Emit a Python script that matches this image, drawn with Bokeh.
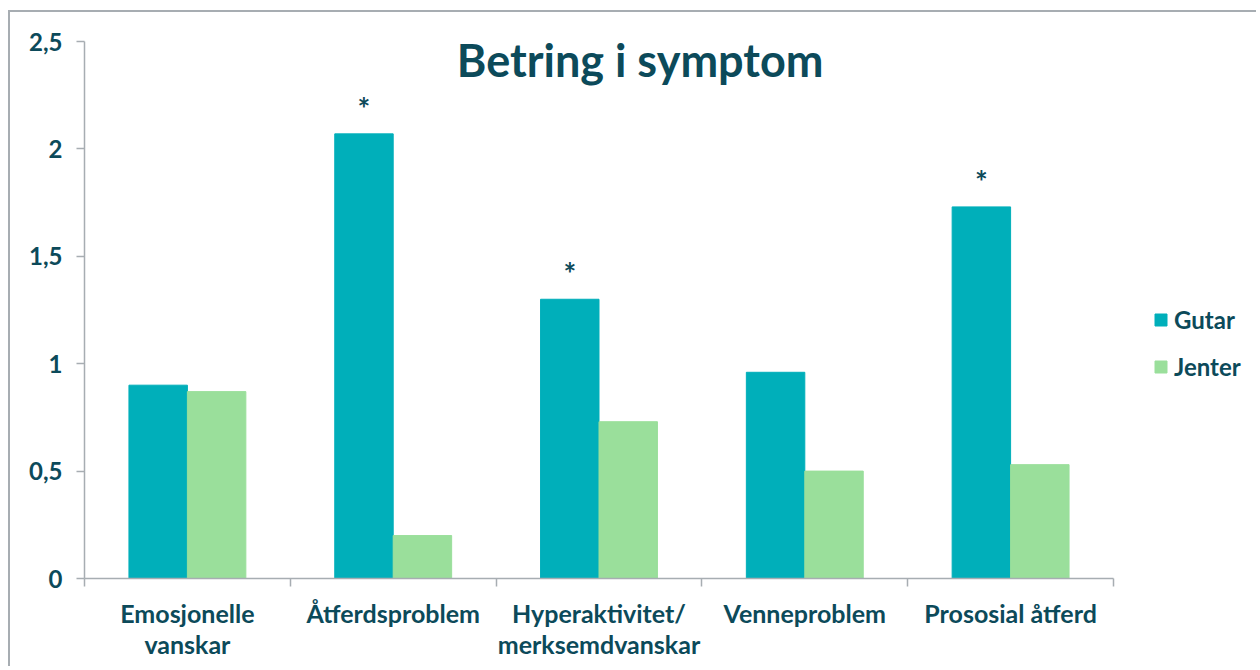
from bokeh.plotting import figure
from bokeh.models import Range1d, FixedTicker, LinearAxis, Legend, LegendItem, Label, ColumnDataSource
from bokeh.transform import dodge
from bokeh.core.properties import value
from bokeh.embed import file_html
from bokeh.resources import INLINE

# ---- data ----
categories = ["Emosjonelle\nvanskar", "Åtferdsproblem", "Hyperaktivitet/\nmerksemdvanskar",
              "Venneproblem", "Prososial åtferd"]
gutar = [0.90, 2.07, 1.30, 0.96, 1.73]
jenter = [0.87, 0.20, 0.73, 0.50, 0.53]
significant = [False, True, True, False, True]
series_names = ["Gutar", "Jenter"]
y_ticks = [0, 0.5, 1, 1.5, 2, 2.5]
y_tick_labels = ["0", "0,5", "1", "1,5", "2", "2,5"]
title_text = "Betring i symptom"

# ---- styles ----
FONT = "Lato"
TXT = "#0C4A5A"
AX = "#A7ADB2"
C_G = "#00AFBA"
C_J = "#9ADF9B"
BW = 0.284

W, H = 1248, 656
ML, MR, MT, MB = 74, 8, 29, 90
AXIS_PX = 1029  # pixel length of the category axis

n = len(categories)
frame_w = W - ML - MR
x_end = n * frame_w / AXIS_PX

xs = [i + 0.5 for i in range(n)]
src = ColumnDataSource(dict(x=xs, gutar=gutar, jenter=jenter))
sig_x = [x for x, s in zip(xs, significant) if s]
sig_y = [g for g, s in zip(gutar, significant) if s]
sig_src = ColumnDataSource(dict(x=sig_x, y=sig_y, t=["*"] * len(sig_x)))

p = figure(width=W, height=H, x_range=Range1d(0, x_end), y_range=Range1d(0, 2.5),
           output_backend="svg", toolbar_location=None,
           min_border_left=ML, min_border_right=MR, min_border_top=MT, min_border_bottom=MB)
p.styles = {"border-left": f"2px solid {AX}", "border-top": f"2px solid {AX}",
            "margin-top": "10px", "margin-left": "8px"}
p.outline_line_color = None
p.grid.visible = False

rg = p.vbar(x=dodge("x", -BW / 2, range=p.x_range), top="gutar", width=BW, source=src,
            fill_color=C_G, line_color=C_G)
rj = p.vbar(x=dodge("x", BW / 2, range=p.x_range), top="jenter", width=BW, source=src,
            fill_color=C_J, line_color=C_J)

p.text(x=dodge("x", -BW / 2, range=p.x_range), y="y", text="t", source=sig_src,
       text_font=value(FONT), text_font_style="bold", text_font_size="30px",
       text_color=TXT, text_align="center", text_baseline="middle", y_offset=-26)

# y axis
ya = p.yaxis[0]
ya.ticker = FixedTicker(ticks=y_ticks)
ya.major_label_overrides = {t: l for t, l in zip(y_ticks, y_tick_labels)}
ya.major_label_text_font = FONT
ya.major_label_text_font_style = "bold"
ya.major_label_text_font_size = "24px"
ya.major_label_text_color = TXT
ya.major_label_standoff = 14
ya.axis_line_color = AX
ya.axis_line_width = 1.5
ya.major_tick_line_color = AX
ya.major_tick_line_width = 1.5
ya.major_tick_in = 0
ya.major_tick_out = 8
ya.minor_tick_line_color = None

# x axis: boundary ticks
xa = p.xaxis[0]
bounds = list(range(n + 1))
xa.bounds = (0, n)
xa.ticker = FixedTicker(ticks=bounds)
xa.major_label_overrides = {b: "" for b in bounds}
xa.major_label_text_font_size = "1px"
xa.major_label_standoff = 0
xa.axis_line_color = AX
xa.axis_line_width = 1.5
xa.major_tick_line_color = AX
xa.major_tick_line_width = 1.5
xa.major_tick_in = 0
xa.major_tick_out = 8
xa.minor_tick_line_color = None

# x axis: category labels
xl = LinearAxis(ticker=FixedTicker(ticks=xs), bounds=(0, n),
                major_label_overrides={x: c for x, c in zip(xs, categories)})
xl.axis_line_color = None
xl.major_tick_line_color = None
xl.minor_tick_line_color = None
xl.major_label_text_font = FONT
xl.major_label_text_font_style = "bold"
xl.major_label_text_font_size = "25px"
xl.major_label_text_color = TXT
xl.major_label_text_line_height = 1.05
xl.major_label_standoff = 5
p.add_layout(xl, "below")

# title
p.add_layout(Label(x=2.70, y=2.5, text=title_text, text_font=FONT, text_font_style="bold",
                   text_font_size="45px", text_color=TXT, text_align="center",
                   text_baseline="middle", y_offset=-18))

legend = Legend(items=[LegendItem(label=series_names[0], renderers=[rg]),
                       LegendItem(label=series_names[1], renderers=[rj])],
                location=(1069, 197), padding=0, margin=0, spacing=18,
                glyph_width=15, glyph_height=15, label_height=20, label_standoff=6,
                label_text_font=FONT, label_text_font_style="bold", label_text_font_size="24px",
                label_text_color=TXT, border_line_color=None, background_fill_alpha=0)
p.add_layout(legend, "center")

open("out.html", "w").write(file_html(p, INLINE))
